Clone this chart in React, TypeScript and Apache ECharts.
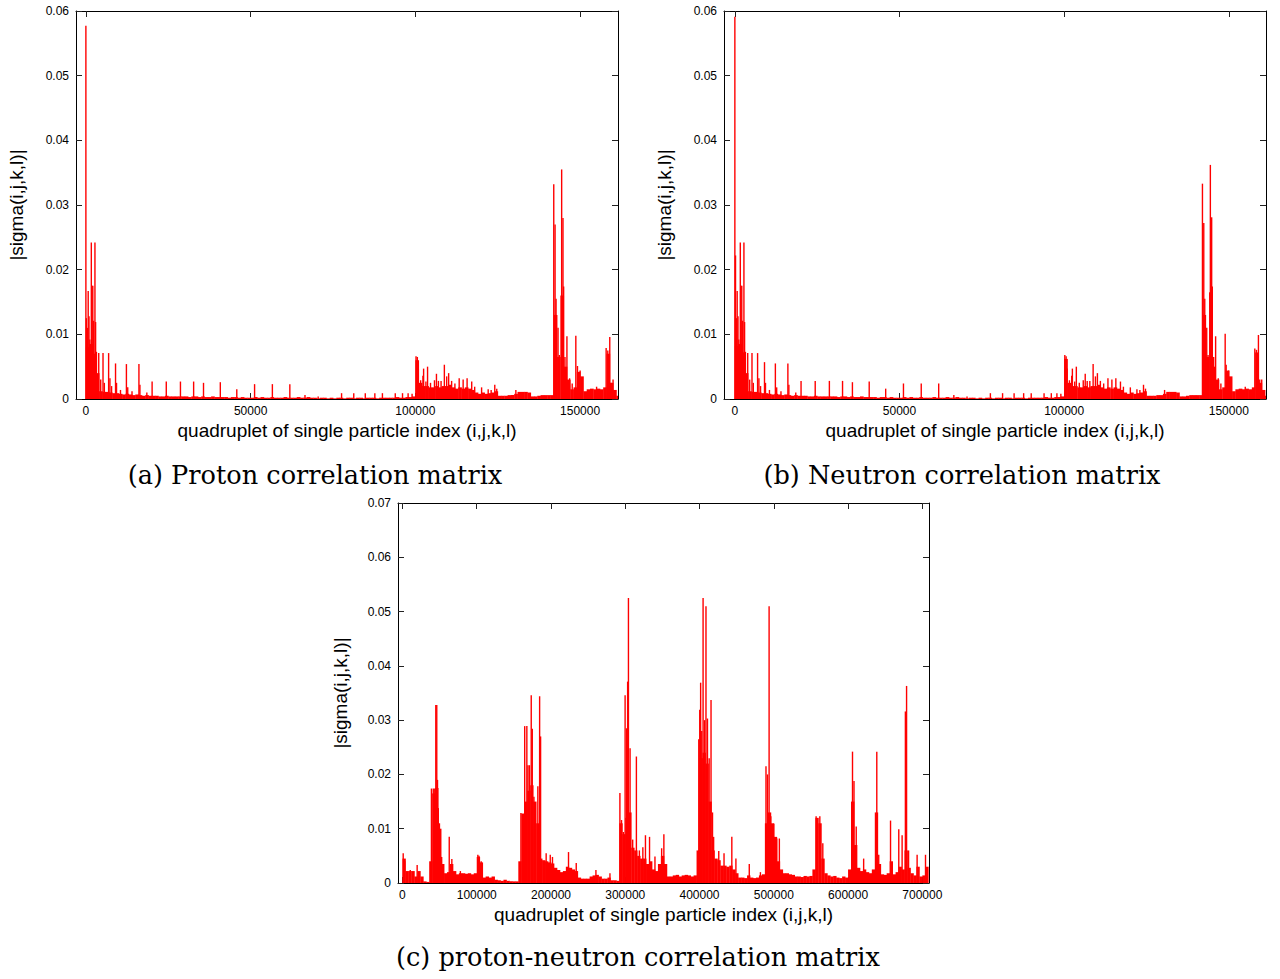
import { useEffect, useRef } from 'react';
import * as echarts from 'echarts';

// ---------- tick labels ----------
const NN_X_TICKS = [0, 50000, 100000, 150000];
const PN_X_TICKS = [0, 100000, 200000, 300000, 400000, 500000, 600000, 700000];

// ---------- text ----------
const X_NAME = 'quadruplet of single particle index (i,j,k,l)';
const Y_NAME = '|sigma(i,j,k,l)|';
const CAPTION_A = '(a) Proton correlation matrix';
const CAPTION_B = '(b) Neutron correlation matrix';
const CAPTION_C = '(c) proton-neutron correlation matrix';

// ---------- data (values in units of 1e-4) ----------
// dense background band, one value per bin of NN_STEP indices (starting at 0)
const NN_STEP = 1000;
const protonBase = [
  80, 85, 70, 40, 12, 11, 11, 10, 9, 9,
  8, 7, 8, 7, 6, 7, 6, 5, 6, 5,
  5, 5, 4, 4, 5, 4, 4, 4, 4, 4,
  4, 3, 4, 4, 3, 4, 3, 3, 4, 3,
  3, 3, 3, 2, 3, 3, 2, 3, 2, 2,
  2, 3, 2, 3, 2, 2, 3, 2, 2, 2,
  3, 2, 2, 2, 3, 2, 2, 3, 2, 2,
  1, 2, 2, 1, 2, 1, 2, 2, 1, 2,
  2, 1, 2, 2, 1, 2, 2, 2, 1, 2,
  2, 2, 2, 2, 3, 2, 2, 3, 3, 4,
  60, 25, 20, 20, 18, 18, 20, 18, 20, 20,
  22, 18, 16, 18, 16, 18, 16, 14, 10, 8,
  10, 8, 9, 10, 12, 5, 5, 5, 6, 6,
  8, 11, 11, 11, 10, 4, 4, 5, 6, 6,
  6, 6, 130, 65, 160, 50, 30, 15, 18, 42,
  35, 12, 15, 16, 15, 16, 15, 18, 70, 25,
  14, 5,
];
// individual impulses: [index, value*1e4]
const protonSpikes = [
  [0, 577], [150, 125], [450, 110], [700, 167], [950, 128], [1200, 92], [1650, 242], [1850, 175],
  [2100, 175], [2350, 121], [2750, 242], [2950, 119], [3200, 73], [3500, 37], [3900, 71], [4500, 30],
  [5200, 71], [5600, 25], [6900, 71], [7300, 32], [7800, 20], [9000, 55], [9300, 25], [10500, 14],
  [12300, 54], [12700, 18], [14000, 12], [16100, 54], [16400, 22], [18500, 10], [20100, 27], [24400, 27],
  [28700, 27], [32700, 27], [35700, 25], [40800, 26], [45800, 15], [51200, 23], [56600, 23], [61900, 23],
  [66500, 6], [70500, 4], [77600, 9], [81300, 9], [84800, 9], [87700, 9], [90000, 9], [93900, 9],
  [96100, 9], [97800, 9], [99000, 8], [100200, 66], [100600, 65], [100900, 47], [101600, 29], [102300, 36],
  [102500, 47], [103200, 27], [103700, 50], [104600, 25], [105800, 29], [106400, 39], [107000, 28], [107800, 28],
  [108800, 53], [109500, 35], [110100, 40], [111000, 28], [112000, 24], [113300, 32], [114500, 30], [115700, 32],
  [117100, 27], [118000, 19], [120100, 18], [122100, 15], [123000, 14], [124100, 22], [124700, 16], [130500, 14],
  [142000, 332], [142400, 270], [142700, 155], [143300, 110], [143700, 68], [144400, 355], [144800, 280], [145000, 174],
  [145400, 65], [146000, 97], [146800, 32], [147600, 24], [148700, 98], [149200, 51], [150000, 44], [155000, 19],
  [157900, 79], [158400, 75], [159000, 96], [159400, 25], [160000, 30],
];

const neutronBase = [
  82, 85, 72, 40, 12, 11, 11, 10, 9, 9,
  8, 7, 8, 7, 6, 7, 6, 5, 6, 5,
  5, 5, 4, 4, 5, 4, 4, 4, 4, 4,
  4, 3, 4, 4, 3, 4, 3, 3, 4, 3,
  3, 3, 3, 2, 3, 3, 2, 3, 2, 2,
  2, 3, 2, 3, 2, 2, 3, 2, 2, 2,
  3, 2, 2, 2, 3, 2, 2, 3, 2, 2,
  1, 2, 2, 1, 2, 1, 2, 2, 1, 2,
  2, 1, 2, 2, 1, 2, 2, 2, 1, 2,
  2, 2, 2, 2, 3, 2, 2, 3, 3, 4,
  62, 25, 20, 20, 18, 18, 20, 18, 20, 20,
  22, 18, 16, 18, 16, 18, 16, 14, 10, 8,
  10, 8, 9, 10, 12, 5, 5, 5, 6, 6,
  8, 11, 11, 11, 10, 4, 4, 5, 6, 6,
  6, 6, 130, 65, 165, 50, 30, 15, 18, 44,
  35, 12, 15, 16, 15, 16, 15, 18, 72, 25,
  14, 5,
];
const neutronSpikes = [
  [0, 591], [200, 222], [450, 125], [700, 167], [950, 128], [1200, 92], [1650, 242], [1850, 175],
  [2100, 175], [2350, 121], [2750, 242], [2950, 119], [3200, 73], [3500, 37], [3900, 71], [4500, 30],
  [5200, 71], [5600, 25], [6900, 71], [7300, 32], [7800, 20], [9000, 57], [9300, 25], [10500, 14],
  [12300, 55], [12700, 18], [14000, 12], [16100, 55], [16400, 22], [18500, 10], [20100, 28], [24400, 28],
  [28700, 28], [32700, 28], [35700, 26], [40800, 27], [45800, 16], [51200, 24], [56600, 24], [61900, 24],
  [66500, 6], [70500, 4], [77600, 9], [81300, 9], [84800, 9], [87700, 9], [90000, 9], [93900, 9],
  [96100, 9], [97800, 9], [99000, 8], [100200, 68], [100600, 66], [100900, 47], [101600, 29], [102300, 36],
  [102500, 47], [103200, 27], [103700, 50], [104600, 25], [105800, 29], [106400, 39], [107000, 28], [107800, 28],
  [108800, 54], [109500, 35], [110100, 40], [111000, 28], [112000, 24], [113300, 32], [114500, 30], [115700, 32],
  [117100, 27], [118000, 19], [120100, 18], [122100, 15], [123000, 14], [124100, 22], [124700, 16], [130500, 14],
  [142000, 333], [142400, 272], [142700, 155], [143300, 110], [143700, 68], [144400, 362], [144800, 281], [145000, 174],
  [145400, 65], [146000, 97], [146800, 32], [147600, 24], [148900, 101], [149200, 53], [150000, 44], [155000, 19],
  [157900, 78], [158400, 76], [159000, 99], [159400, 30], [160000, 30],
];

const PN_STEP = 4000;
const pnBase = [
  45, 22, 22, 22, 12, 22, 12, 3, 2, 40,
  165, 175, 100, 35, 18, 20, 35, 22, 16, 18,
  18, 17, 18, 16, 18, 48, 38, 10, 12, 10,
  12, 6, 5, 4, 6, 4, 3, 3, 3, 40,
  128, 150, 170, 180, 150, 110, 45, 42, 40, 38,
  36, 28, 24, 20, 22, 30, 28, 25, 22, 10,
  8, 8, 8, 12, 14, 15, 12, 8, 8, 10,
  5, 5, 4, 110, 90, 120, 130, 65, 60, 50,
  45, 45, 35, 40, 25, 22, 35, 50, 35, 12,
  12, 14, 15, 12, 14, 15, 14, 12, 14, 60,
  230, 240, 220, 150, 60, 45, 42, 32, 32, 30,
  32, 25, 18, 10, 10, 9, 14, 10, 9, 10,
  14, 16, 110, 130, 110, 85, 40, 25, 18, 18,
  16, 15, 12, 12, 11, 13, 12, 13, 25, 120,
  110, 45, 18, 14, 12, 13, 10, 9, 12, 10,
  25, 150, 70, 28, 22, 25, 20, 18, 25, 130,
  35, 16, 15, 18, 40, 16, 20, 30, 25, 60,
  28, 18, 14, 30, 12, 14, 30,
];
const pnSpikes = [
  [1000, 55], [3000, 40], [10500, 24], [19800, 33], [39000, 174], [41500, 174], [43500, 174], [44900, 328],
  [46200, 328], [47200, 190], [48300, 138], [49800, 110], [52800, 48], [63000, 85], [66500, 44], [78000, 22],
  [101500, 52], [103000, 50], [106000, 40], [159500, 129], [164600, 289], [167500, 289], [169000, 217], [171000, 217],
  [173400, 346], [174800, 284], [177000, 159], [182300, 178], [184700, 344], [186000, 270], [193500, 55], [199000, 52],
  [202000, 48], [223600, 57], [234000, 37], [260500, 24], [279400, 18], [292800, 166], [295000, 116], [297500, 94],
  [299800, 346], [301800, 285], [303200, 371], [304300, 525], [306500, 248], [310000, 80], [315000, 233], [319000, 60],
  [323700, 66], [327200, 88], [332700, 85], [340000, 49], [349000, 64], [352000, 90], [399000, 265], [400300, 319],
  [401500, 369], [403000, 280], [404800, 525], [406800, 300], [408700, 510], [410700, 303], [413000, 230], [415500, 337],
  [417500, 130], [419000, 85], [425900, 59], [433000, 55], [443500, 85], [449000, 45], [467000, 35], [482000, 20],
  [489500, 215], [491500, 200], [493700, 510], [496000, 123], [500000, 109], [504000, 82], [507500, 82], [557000, 123],
  [562000, 123], [566000, 73], [606000, 242], [608000, 188], [611000, 104], [621000, 45], [638700, 242], [641300, 52],
  [657200, 115], [668300, 99], [672800, 88], [677200, 316], [678800, 363], [681500, 60], [693000, 52], [704300, 52],
];

const UNIT = 1e-4;
const RED = '#ff0000';
const SANS = '"Liberation Sans", Arial, Helvetica, sans-serif';
const SERIF = '"DejaVu Serif", serif';

const toBins = (arr: number[], step: number) => arr.map((v, i) => [i * step, v * UNIT]);
const toSpikes = (arr: number[][]) => arr.map(([x, v]) => [x, v * UNIT]);

function binSeries(data: number[][], step: number, axisIndex: number) {
  return {
    type: 'custom',
    xAxisIndex: axisIndex,
    yAxisIndex: axisIndex,
    data,
    clip: true,
    silent: true,
    encode: { x: 0, y: 1 },
    renderItem: (_p: any, api: any) => {
      const x = api.value(0);
      const y = api.value(1);
      const p0 = api.coord([x, 0]);
      const p1 = api.coord([x, y]);
      const xr = api.coord([x + step, 0])[0];
      return {
        type: 'rect',
        shape: { x: p0[0], y: p1[1], width: xr - p0[0] + 0.4, height: p0[1] - p1[1] },
        style: { fill: RED },
      };
    },
  };
}

function spikeSeries(data: number[][], axisIndex: number) {
  return {
    type: 'custom',
    xAxisIndex: axisIndex,
    yAxisIndex: axisIndex,
    data,
    clip: true,
    silent: true,
    encode: { x: 0, y: 1 },
    renderItem: (_p: any, api: any) => {
      const x = api.value(0);
      const y = api.value(1);
      const p0 = api.coord([x, 0]);
      const p1 = api.coord([x, y]);
      return {
        type: 'line',
        shape: { x1: p0[0], y1: p0[1], x2: p1[0], y2: p1[1] },
        style: { stroke: RED, lineWidth: 1.4 },
      };
    },
  };
}

const axisLine = { show: true, onZero: false, lineStyle: { color: '#000', width: 1 } };

function xAxesFor(gridIndex: number, min: number, max: number, ticks: number[]) {
  const tick = { show: true, inside: true, length: 6, customValues: ticks, lineStyle: { color: '#222', width: 1 } };
  return [
    {
      type: 'value', gridIndex, min, max, position: 'bottom', axisLine, axisTick: tick,
      splitLine: { show: false },
      axisLabel: {
        customValues: ticks, fontSize: 12, color: '#000', fontFamily: SANS, margin: 6,
        formatter: (v: number) => String(v),
      },
      name: X_NAME, nameLocation: 'middle', nameGap: 22,
      nameTextStyle: { fontSize: 19, fontFamily: SANS, color: '#000' },
    },
    {
      type: 'value', gridIndex, min, max, position: 'top', axisLine, axisTick: tick,
      splitLine: { show: false }, axisLabel: { show: false },
    },
  ];
}

function yAxesFor(gridIndex: number, max: number, gap: number) {
  const tick = { show: true, inside: true, length: 6, lineStyle: { color: '#222', width: 1 } };
  return [
    {
      type: 'value', gridIndex, min: 0, max, interval: 0.01, position: 'left', axisLine, axisTick: tick,
      splitLine: { show: false },
      axisLabel: {
        fontSize: 12, color: '#000', fontFamily: SANS, margin: 7,
        formatter: (v: number) => String(parseFloat(Number(v).toFixed(3))),
      },
      name: Y_NAME, nameLocation: 'middle', nameGap: gap,
      nameTextStyle: { fontSize: 19, fontFamily: SANS, color: '#000' },
    },
    {
      type: 'value', gridIndex, min: 0, max, interval: 0.01, position: 'right', axisLine, axisTick: tick,
      splitLine: { show: false }, axisLabel: { show: false },
    },
  ];
}

function caption(text: string, x: number, y: number) {
  return {
    type: 'text', x, y, silent: true,
    style: {
      text, fontSize: 25.6, fontFamily: SERIF, fill: '#000',
      align: 'center', verticalAlign: 'middle', textAlign: 'center', textVerticalAlign: 'middle',
    },
  };
}

export default function App() {
  const ref = useRef<HTMLDivElement>(null);
  useEffect(() => {
    if (!ref.current) return;
    const chart = echarts.init(ref.current, null, { renderer: 'svg' });
    const xa = [
      ...xAxesFor(0, -3000, 161500, NN_X_TICKS),
      ...xAxesFor(1, -3300, 161300, NN_X_TICKS),
      ...xAxesFor(2, -6000, 709000, PN_X_TICKS),
    ];
    const ya = [...yAxesFor(0, 0.06, 50), ...yAxesFor(1, 0.06, 50), ...yAxesFor(2, 0.07, 48)];
    // series use the bottom/left axes: indices 0, 2, 4
    chart.setOption({
      animation: false,
      backgroundColor: '#fff',
      grid: [
        { left: 76, top: 11, width: 542, height: 388, containLabel: false },
        { left: 724, top: 11, width: 542, height: 388, containLabel: false },
        { left: 398, top: 503, width: 531, height: 380, containLabel: false },
      ],
      xAxis: xa,
      yAxis: ya,
      series: [
        binSeries(toBins(protonBase, NN_STEP), NN_STEP, 0),
        spikeSeries(toSpikes(protonSpikes), 0),
        binSeries(toBins(neutronBase, NN_STEP), NN_STEP, 2),
        spikeSeries(toSpikes(neutronSpikes), 2),
        binSeries(toBins(pnBase, PN_STEP), PN_STEP, 4),
        spikeSeries(toSpikes(pnSpikes), 4),
      ],
      graphic: [
        caption(CAPTION_A, 315, 475),
        caption(CAPTION_B, 962, 475),
        caption(CAPTION_C, 638, 957),
      ],
    });
    return () => chart.dispose();
  }, []);
  return (
    <div
      ref={ref}
      style={{ position: 'absolute', left: 0, top: 0, width: 1280, height: 979, background: '#fff' }}
    />
  );
}
